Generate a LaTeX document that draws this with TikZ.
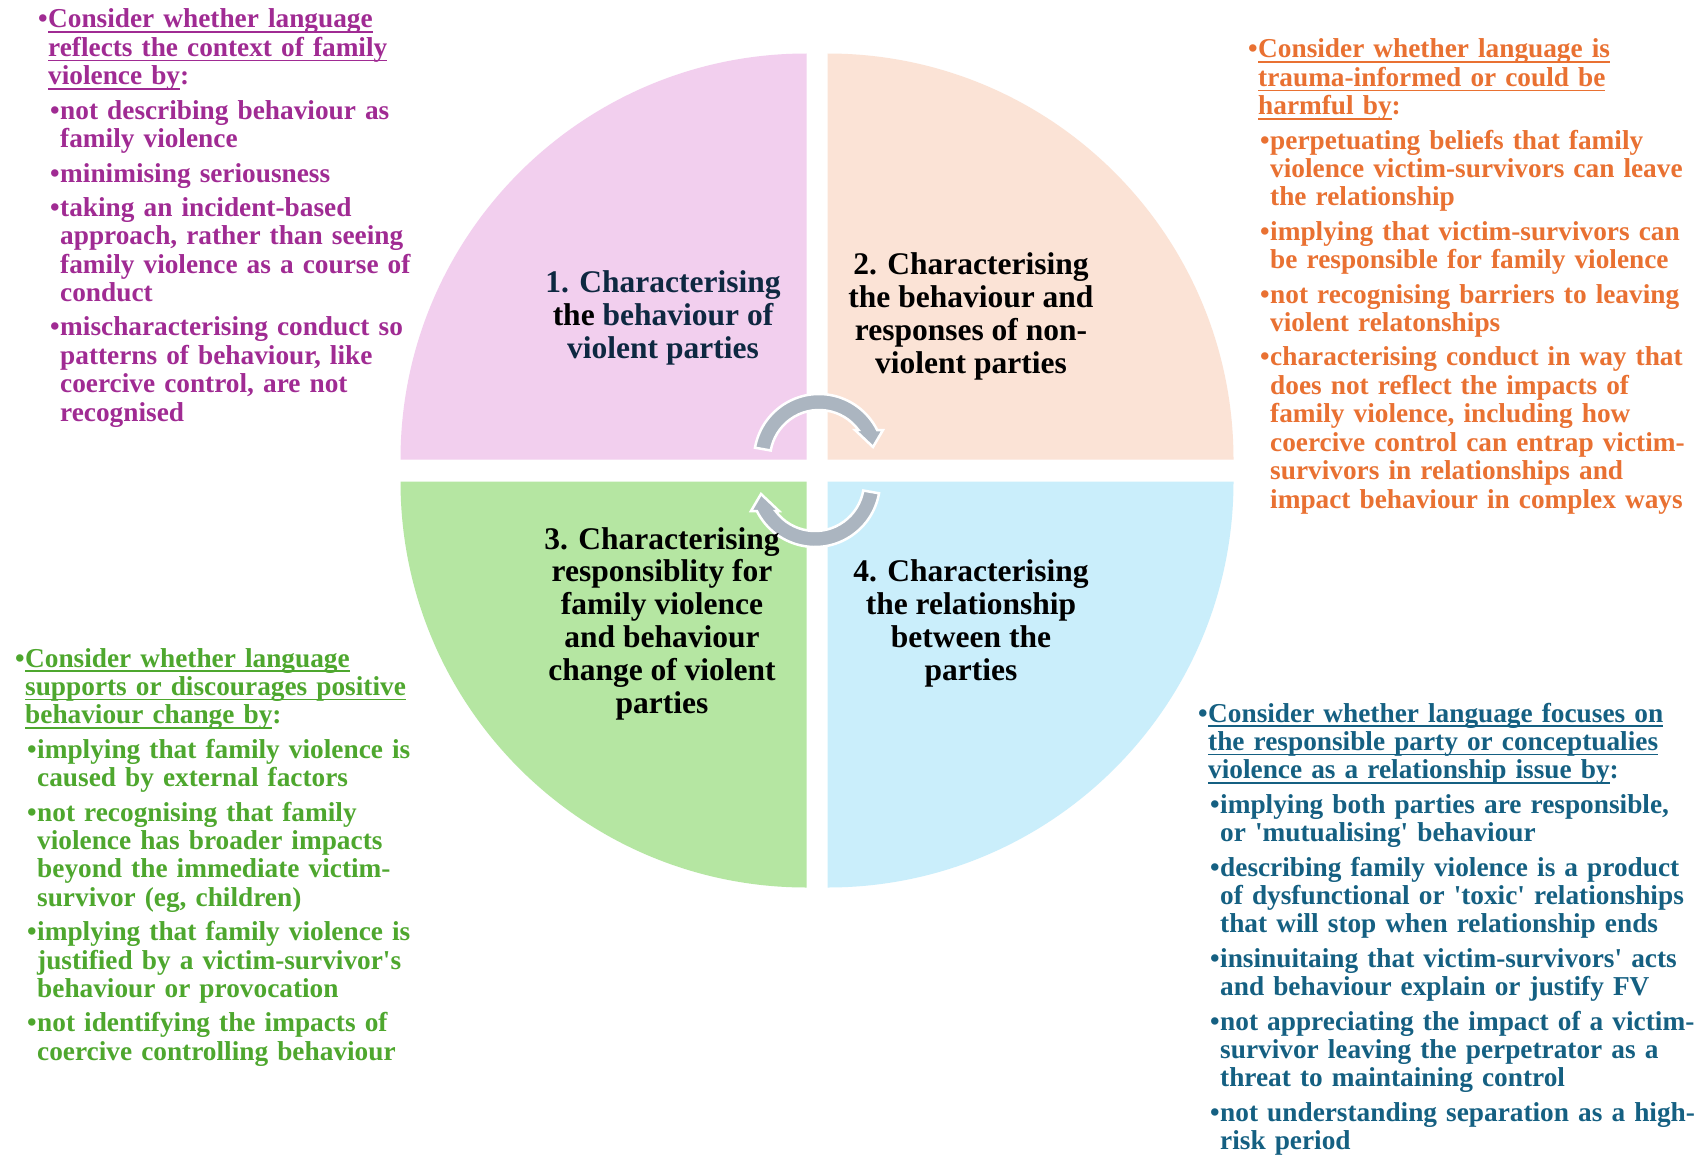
\documentclass[tikz,border=0pt]{standalone}
\usepackage{fontspec}
\setmainfont{Liberation Serif}

\definecolor{purp}{HTML}{A02B93}
\definecolor{orng}{HTML}{E97132}
\definecolor{grn}{HTML}{4EA72E}
\definecolor{blu}{HTML}{156082}
\definecolor{navy}{HTML}{0E2841}
\definecolor{pinkq}{HTML}{F2CFEE}
\definecolor{peachq}{HTML}{FBE3D6}
\definecolor{greenq}{HTML}{B5E6A2}
\definecolor{blueq}{HTML}{CAEEFB}
\definecolor{arrowg}{HTML}{ABB5C0}

% bullet, underline, heading line and sub point
\newcommand{\bul}{\makebox[10pt][l]{\textbullet}}
\newcommand{\undl}[1]{\setbox0\hbox{#1}\rlap{\rule[-5pt]{\wd0}{1.8pt}}\box0}
\newcommand{\hdr}[1]{\setlength{\parskip}{6pt}\noindent\hangindent=10pt\hangafter=1\bul#1\par}
\newcommand{\pnt}[1]{\setlength{\parskip}{6pt}\noindent\hangindent=22pt\hangafter=1\hspace*{12pt}\bul#1\par}

\begin{document}
\begin{tikzpicture}[x=1pt, y=-1pt,
  txt/.style = {anchor=base west, inner sep=0pt, text width=520pt, font=\fontsize{27.3}{28.4}\selectfont\bfseries},
  lbl/.style = {anchor=base, inner sep=0pt, align=center, font=\fontsize{31.5}{32.8}\selectfont\bfseries},
  arw/.style = {fill=arrowg, draw=white, line width=2.5pt}]

\fill[white] (0,0) rectangle (1702,1156);
\useasboundingbox (0,0) rectangle (1702,1156);

% the four quarters
\fill[pinkq]  (806.5,459.5) -- (400.5,459.5) arc[start angle=180, end angle=90, radius=406pt] -- cycle;
\fill[peachq] (827.5,459.5) -- (827.5,53.5) arc[start angle=90, end angle=0, radius=406pt] -- cycle;
\fill[greenq] (806.5,481.5) -- (806.5,887.5) arc[start angle=270, end angle=180, radius=406pt] -- cycle;
\fill[blueq]  (827.5,481.5) -- (1233.5,481.5) arc[start angle=0, end angle=-90, radius=406pt] -- cycle;

% circular arrows
\foreach \r in {0,180}
  \fill[arw, rotate around={\r:(817,470.5)}, shift={(819,459)}]
    (170:65pt) arc[start angle=170, end angle=26.5, radius=65pt]
    -- (64pt,29pt) -- (54pt,12pt) -- (36pt,29pt) -- (36.3:49pt)
    arc[start angle=36.3, end angle=170, radius=49pt] -- cycle;

% base of a label = its last line
\node[lbl, text=navy] (1) at (663,358) {1. Characterising\\\textcolor{black}{the} behaviour of\\violent parties};
\node[lbl] (2) at (971,373) {2. Characterising\\the behaviour and\\responses of non-\\violent parties};
\node[lbl] (3) at (662,713) {3. Characterising\\responsiblity for\\family violence\\and behaviour\\change of violent\\parties};
\node[lbl] (4) at (971,680) {4. Characterising\\the relationship\\between the\\parties};

\node[txt, text=purp] (t1) at (38,28) {%
\hdr{\undl{Consider whether language}\newline\undl{reflects the context of family}\newline\undl{violence by}:}
\pnt{not describing behaviour as\newline family violence}
\pnt{minimising seriousness}
\pnt{taking an incident-based\newline approach, rather than seeing\newline family violence as a course of\newline conduct}
\pnt{mischaracterising conduct so\newline patterns of behaviour, like\newline coercive control, are not\newline recognised}};

\node[txt, text=orng] (t2) at (1248,58) {%
\hdr{\undl{Consider whether language is}\newline\undl{trauma-informed or could be}\newline\undl{harmful by}:}
\pnt{perpetuating beliefs that family\newline violence victim-survivors can leave\newline the relationship}
\pnt{implying that victim-survivors can\newline be responsible for family violence}
\pnt{not recognising barriers to leaving\newline violent relatonships}
\pnt{characterising conduct in way that\newline does not reflect the impacts of\newline family violence, including how\newline coercive control can entrap victim-\newline survivors in relationships and\newline impact behaviour in complex ways}};

\node[txt, text=grn] (t3) at (15,667) {%
\hdr{\undl{Consider whether language}\newline\undl{supports or discourages positive}\newline\undl{behaviour change by}:}
\pnt{implying that family violence is\newline caused by external factors}
\pnt{not recognising that family\newline violence has broader impacts\newline beyond the immediate victim-\newline survivor (eg, children)}
\pnt{implying that family violence is\newline justified by a victim-survivor\textquotesingle s\newline behaviour or provocation}
\pnt{not identifying the impacts of\newline coercive controlling behaviour}};

\node[txt, text=blu] (t4) at (1198,722) {%
\hdr{\undl{Consider whether language focuses on}\newline\undl{the responsible party or conceptualies}\newline\undl{violence as a relationship issue by}:}
\pnt{implying both parties are responsible,\newline or \textquotesingle mutualising\textquotesingle\ behaviour}
\pnt{describing family violence is a product\newline of dysfunctional or \textquotesingle toxic\textquotesingle\ relationships\newline that will stop when relationship ends}
\pnt{insinuitaing that victim-survivors\textquotesingle\ acts\newline and behaviour explain or justify FV}
\pnt{not appreciating the impact of a victim-\newline survivor leaving the perpetrator as a\newline threat to maintaining control}
\pnt{not understanding separation as a high-\newline risk period}};

\end{tikzpicture}
\end{document}
